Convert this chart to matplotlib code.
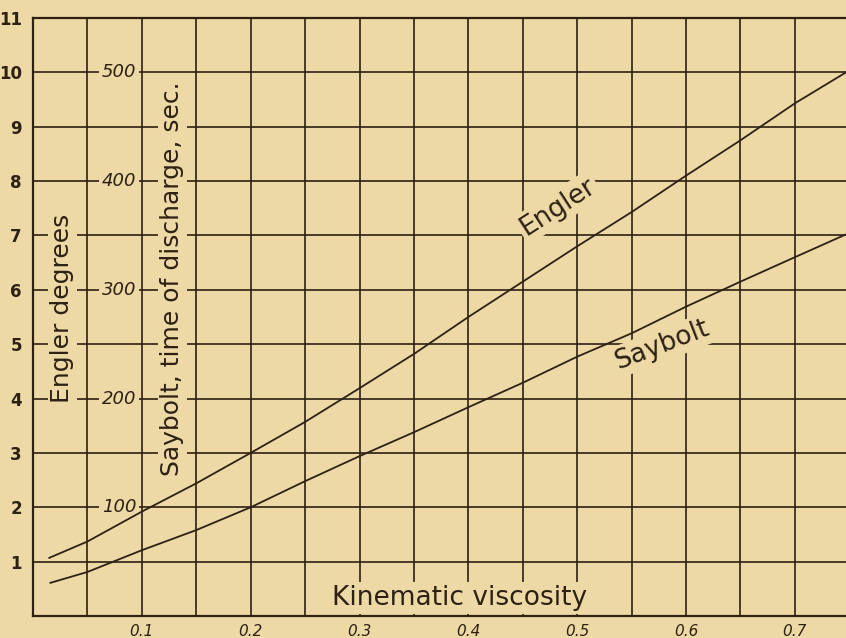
import matplotlib.pyplot as plt

# kinematic viscosity (stokes) vs Engler degrees / Saybolt seconds
visc_engler = [0.015, 0.05, 0.10, 0.15, 0.20, 0.25, 0.30, 0.35, 0.40, 0.45, 0.50, 0.55, 0.60, 0.65, 0.70, 0.747]
engler = [1.07, 1.37, 1.92, 2.44, 3.00, 3.57, 4.19, 4.82, 5.50, 6.15, 6.80, 7.43, 8.10, 8.75, 9.43, 10.0]

visc_saybolt = [0.016, 0.05, 0.10, 0.15, 0.20, 0.25, 0.30, 0.35, 0.40, 0.45, 0.50, 0.55, 0.60, 0.65, 0.70, 0.747]
saybolt_sec = [30.5, 40.5, 60.5, 79, 100, 124, 147, 169, 192, 214.5, 238.5, 260, 284.5, 307.5, 330, 351]

engler_ticks = [1, 2, 3, 4, 5, 6, 7, 8, 9, 10, 11]
saybolt_ticks = [100, 200, 300, 400, 500]
visc_ticks = [0.1, 0.2, 0.3, 0.4, 0.5, 0.6, 0.7]

paper = '#edd9a6'
ink = '#2e2013'

fig = plt.figure(figsize=(8.46, 6.38), dpi=100, facecolor=paper)
ax = fig.add_axes([33 / 846, 22 / 638, 813 / 846, 598 / 638])
ax.set_facecolor(paper)
ax.set_xlim(0, 0.747)
ax.set_ylim(0, 11)

# grid every 0.05 stokes and every Engler degree
ax.set_xticks([i * 0.05 for i in range(1, 15)], minor=True)
ax.set_xticks(visc_ticks)
ax.set_xticklabels(['%.1f' % v for v in visc_ticks], fontstyle='italic', fontsize=11)
ax.set_yticks(engler_ticks)
ax.set_yticklabels([str(v) for v in engler_ticks], fontsize=12, fontweight='bold')
ax.tick_params(which='both', length=0, colors=ink)
ax.tick_params(axis='x', pad=6)
ax.tick_params(axis='y', pad=8)
ax.grid(True, which='both', color=ink, lw=1.2)
ax.set_axisbelow(True)
for side in ['left', 'bottom', 'top']:
    ax.spines[side].set_color(ink)
    ax.spines[side].set_linewidth(1.6)
ax.spines['right'].set_visible(False)

# Saybolt seconds on their own scale, 100 s = 2 Engler degrees
ax2 = ax.twinx()
ax2.set_ylim(0, 550)
ax2.axis('off')

ax.plot(visc_engler, engler, color=ink, lw=1.3, zorder=5)
ax.plot(visc_saybolt, saybolt_sec, color=ink, lw=1.3, zorder=5,
        transform=ax2.transData)

box = dict(facecolor=paper, edgecolor='none', pad=2)
for s in saybolt_ticks:
    ax.text(0.079, s, str(s), ha='center', va='center', fontsize=13,
            fontstyle='italic', color=ink, bbox=box, zorder=3,
            transform=ax2.transData)

ax.text(0.027, 5.66, 'Engler degrees', rotation=90, ha='center', va='center',
        fontsize=18, color=ink, bbox=box, zorder=3)
ax.text(0.128, 6.21, 'Saybolt, time of discharge, sec.', rotation=90,
        ha='center', va='center', fontsize=18, color=ink, bbox=box, zorder=3)
ax.text(0.392, 0.33, 'Kinematic viscosity', ha='center', va='center',
        fontsize=19, color=ink, bbox=box, zorder=3)
ax.text(0.4825, 7.52, 'Engler', rotation=33, rotation_mode='anchor',
        ha='center', va='center', fontsize=19, color=ink, bbox=box, zorder=3)
ax.text(0.578, 4.98, 'Saybolt', rotation=21, rotation_mode='anchor',
        ha='center', va='center', fontsize=19, color=ink, bbox=box, zorder=3)

fig.savefig('out.png', dpi=100, facecolor=paper)
